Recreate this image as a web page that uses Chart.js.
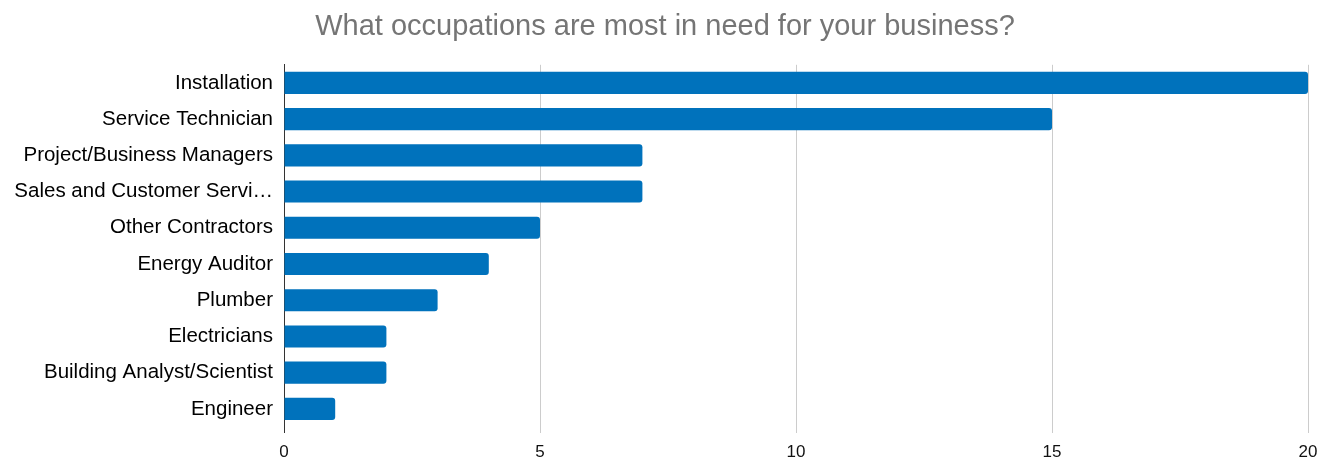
<!DOCTYPE html>
<html>
<head>
<meta charset="utf-8">
<script src="https://cdn.jsdelivr.net/npm/chart.js@4"></script>
<style>
  html, body { margin: 0; padding: 0; background: #fff; }
  #wrap { width: 1332px; height: 459px; }
</style>
</head>
<body>
<div id="wrap"><canvas id="graficoOcupacoes"></canvas></div>
<script>
const occupations = ['Installation', 'Service Technician', 'Project/Business Managers', 'Sales and Customer Servi\u2026',
    'Other Contractors', 'Energy Auditor', 'Plumber', 'Electricians', 'Building Analyst/Scientist', 'Engineer'];
const counts = [20, 15, 7, 7, 5, 4, 3, 2, 2, 1];
const xTicks = [0, 5, 10, 15, 20];

const ctx = document.getElementById('graficoOcupacoes').getContext('2d');

new Chart(ctx, {
    type: 'bar',
    data: {
        labels: occupations,
        datasets: [{
            data: counts,
            backgroundColor: '#0072BC',
            borderRadius: 3,
            borderSkipped: 'start',
            categoryPercentage: 0.61,
            barPercentage: 1
        }]
    },
    options: {
        indexAxis: 'y',
        responsive: true,
        maintainAspectRatio: false,
        animation: false,
        layout: {padding: {left: 0, right: 2, top: 0, bottom: 0}},
        plugins: {
            title: {
                display: true,
                text: 'What occupations are most in need for your business?',
                color: '#757575',
                font: {family: 'Liberation Sans', size: 29, weight: 'normal'},
                padding: {top: 10, bottom: 20}
            },
            legend: {display: false},
            tooltip: {enabled: false}
        },
        scales: {
            x: {
                min: 0,
                max: 20,
                afterBuildTicks: axis => { axis.ticks = xTicks.map(v => ({value: v})); },
                afterFit: axis => { axis.height = 32; axis.paddingRight = 24; },
                grid: {
                    color: c => c.index === 0 ? '#333333' : '#cccccc',
                    tickLength: 6,
                    drawTicks: true
                },
                border: {display: false},
                ticks: {
                    color: '#111111',
                    padding: 9,
                    font: {family: 'Liberation Sans', size: 17}
                }
            },
            y: {
                afterFit: axis => { axis.width = 284; },
                grid: {display: false, drawTicks: false},
                border: {display: true, color: '#333333', width: 1},
                ticks: {
                    color: '#000000',
                    padding: 11,
                    font: {family: 'Liberation Sans', size: 20.5}
                }
            }
        }
    }
});
</script>
</body>
</html>
